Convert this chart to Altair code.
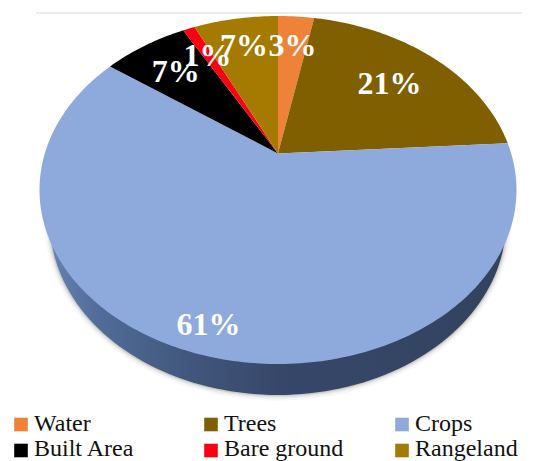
import math
import altair as alt
import pandas as pd

# Land cover shares, clockwise from twelve o'clock
categories = ["Water", "Trees", "Crops", "Built Area", "Bare ground", "Rangeland"]
shares = [3, 21, 61, 7, 1, 7]
colors = ["#ee8239", "#7f5f00", "#8eaadc", "#000000", "#fb0010", "#a47a00"]
label_radii = [0.76, 0.70, 0.88, 0.74, 0.76, 0.775]

# Tilted-disc layout, in pixels
W, H = 538, 461
CX, CY, RX, RY = 278, 190, 238.5, 174
BASE_CY, BASE_RX, BASE_RY = 222, 228, 173
TILT = -0.21  # where the pie's centre sits inside the ellipse, as a fraction of RY


def to_disc(x, y):
    """Project a point of the unit circle onto the tilted top face."""
    d = 1 + TILT * y
    return (
        CX + RX * x * math.sqrt(1 - TILT * TILT) / d,
        CY + RY * (y + TILT) / d,
    )


def rim_point(fraction, radius=1.0):
    angle = 2 * math.pi * fraction
    return to_disc(radius * math.sin(angle), -radius * math.cos(angle))


def wedge(start, end):
    steps = max(2, int((end - start) * 360))
    ring = [list(to_disc(0, 0))]
    ring += [list(rim_point(start + (end - start) * i / steps)) for i in range(steps + 1)]
    ring.append(ring[0])
    return ring


def feature(name, ring):
    return {
        "type": "Feature",
        "properties": {"name": name},
        "geometry": {"type": "Polygon", "coordinates": [ring]},
    }


# Slices and label anchors follow the cumulative shares
total = sum(shares)
wedges, label_rows = [], []
running = 0
for name, share, radius in zip(categories, shares, label_radii):
    start, end = running / total, (running + share) / total
    wedges.append(feature(name, wedge(start, end)))
    lx, ly = rim_point((start + end) / 2, radius)
    label_rows.append({"label": f"{share}%", "x": lx, "y": ly + 11})
    running += share

# Side wall: the lower rim of a slightly narrower base ellipse
wall = [
    [CX + BASE_RX * math.cos(math.radians(a)), BASE_CY + BASE_RY * math.sin(math.radians(a))]
    for a in range(-10, 191, 2)
]
wall.append(wall[0])
wall_shape = [feature("wall", wall)]

projection = alt.Projection(type="identity", scale=1, translate=[0, 0])
px_x = alt.Scale(domain=[0, W], range=[0, W])
px_y = alt.Scale(domain=[0, H], range=[0, H])

# Soft shadow: stacked translucent outlines beneath the wall
shadows = [
    alt.Chart(alt.Data(values=wall_shape))
    .mark_geoshape(fill="#000000", fillOpacity=0, stroke="#6a6a60", strokeOpacity=op, strokeWidth=sw)
    .project(**projection.to_dict())
    for sw, op in [(11, 0.05), (7, 0.08), (4, 0.12), (2, 0.16)]
]

wall_gradient = alt.LinearGradient(
    gradient="linear",
    x1=0, x2=1, y1=0, y2=0,
    stops=[
        alt.GradientStop(offset=0.0, color="#6582b2"),
        alt.GradientStop(offset=0.1, color="#526d9a"),
        alt.GradientStop(offset=0.28, color="#43597f"),
        alt.GradientStop(offset=0.5, color="#37476a"),
        alt.GradientStop(offset=1.0, color="#32435f"),
    ],
)
wall_layer = (
    alt.Chart(alt.Data(values=wall_shape))
    .mark_geoshape(fill=wall_gradient, strokeWidth=0)
    .project(**projection.to_dict())
)

color_scale = alt.Scale(domain=categories, range=colors)
top_face = (
    alt.Chart(alt.Data(values=wedges))
    .mark_geoshape(strokeWidth=0)
    .encode(color=alt.Color("properties.name:N", scale=color_scale, legend=None))
    .project(**projection.to_dict())
)

value_labels = (
    alt.Chart(pd.DataFrame(label_rows))
    .mark_text(font="Liberation Serif", fontWeight="bold", fontSize=32, color="#ffffff", align="center", baseline="alphabetic")
    .encode(
        x=alt.X("x:Q", scale=px_x, axis=None),
        y=alt.Y("y:Q", scale=px_y, axis=None),
        text="label:N",
    )
)

# Thin rule across the top of the frame
top_rule = (
    alt.Chart(pd.DataFrame({"x": [36], "x2": [522], "y": [13]}))
    .mark_rule(color="#d9d9d9", strokeWidth=1)
    .encode(
        x=alt.X("x:Q", scale=px_x, axis=None),
        x2="x2:Q",
        y=alt.Y("y:Q", scale=px_y, axis=None),
    )
)

# Hand-laid key: three columns, two rows
key_swatch_x = [21, 211, 402]
key_text_x = [34, 224, 415]
key_swatch_y = [424.5, 450.5]
key_text_y = [431, 455.5]
key = pd.DataFrame(
    [
        {
            "name": name,
            "sx": key_swatch_x[i % 3],
            "tx": key_text_x[i % 3],
            "sy": key_swatch_y[i // 3],
            "ty": key_text_y[i // 3],
        }
        for i, name in enumerate(categories)
    ]
)
key_swatches = (
    alt.Chart(key)
    .mark_square(size=185, opacity=1)
    .encode(
        x=alt.X("sx:Q", scale=px_x, axis=None),
        y=alt.Y("sy:Q", scale=px_y, axis=None),
        color=alt.Color("name:N", scale=color_scale, legend=None),
    )
)
key_labels = (
    alt.Chart(key)
    .mark_text(font="Liberation Serif", fontSize=24, color="#111111", align="left", baseline="alphabetic")
    .encode(
        x=alt.X("tx:Q", scale=px_x, axis=None),
        y=alt.Y("ty:Q", scale=px_y, axis=None),
        text="name:N",
    )
)

chart = (
    alt.layer(*shadows, wall_layer, top_face, top_rule, value_labels, key_swatches, key_labels)
    .properties(width=W, height=H, padding=0, autosize=alt.AutoSizeParams(type="none"), background="#ffffff")
    .configure_view(stroke=None)
)

chart.save("out.html", embed_options={"renderer": "svg", "actions": False})
